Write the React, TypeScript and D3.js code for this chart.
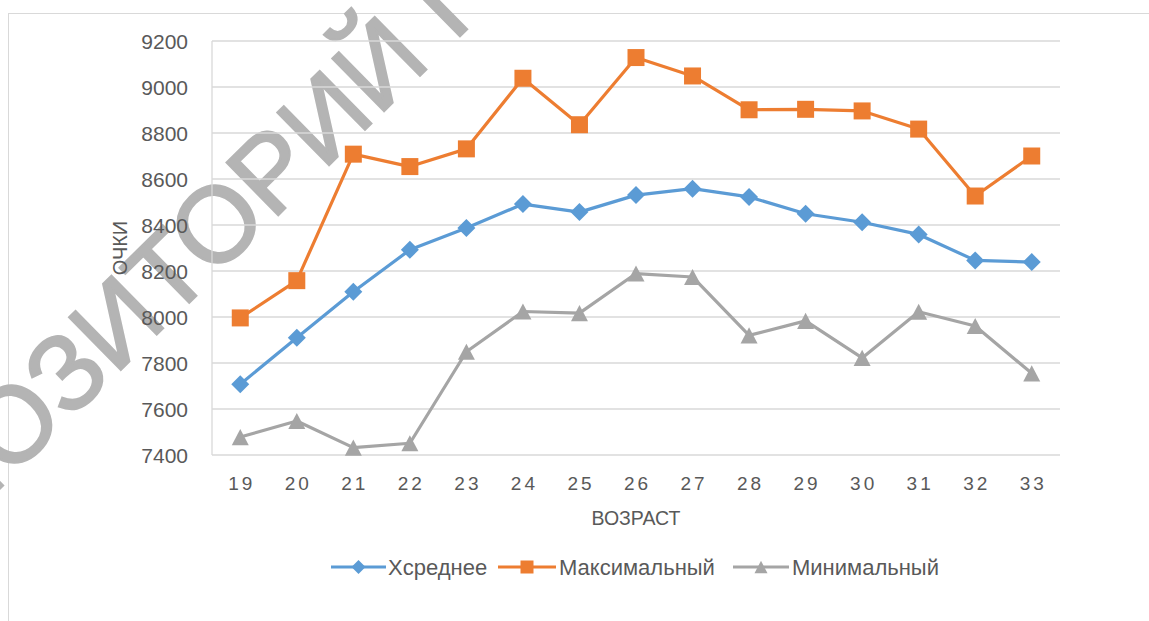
import React from 'react';
import * as d3 from 'd3';

const ages = ['19', '20', '21', '22', '23', '24', '25', '26', '27', '28', '29', '30', '31', '32', '33'];
const meanValues = [7708, 7910, 8110, 8292, 8387, 8491, 8456, 8530, 8558, 8522, 8449, 8412, 8359, 8246, 8239];
const maxValues = [7996, 8158, 8708, 8654, 8731, 9038, 8836, 9128, 9048, 8901, 8903, 8896, 8817, 8526, 8700];
const minValues = [7478, 7548, 7432, 7451, 7849, 8024, 8017, 8189, 8174, 7920, 7983, 7822, 8023, 7961, 7755];
const yTicks = [7400, 7600, 7800, 8000, 8200, 8400, 8600, 8800, 9000, 9200];
const seriesNames = ['Хсреднее', 'Максимальный', 'Минимальный'];
const xTitle = 'ВОЗРАСТ';
const yTitle = 'ОЧКИ';
const watermarkHead = 'РЕП';
const watermarkTail = 'ОЗИТОРИЙ ГГУ';

const W = 1149;
const H = 621;
const FONT = '"Liberation Sans", Arial, sans-serif';
const TEXT = '#595959';
const GRID = '#d9d9d9';
const WM = '#b4b4b4';

type Shape = 'diamond' | 'square' | 'triangle';

function markerPath(shape: Shape, cx: number, cy: number, s: number): string {
  const h = s / 2;
  if (shape === 'diamond') {
    return `M${cx},${cy - h}L${cx + h},${cy}L${cx},${cy + h}L${cx - h},${cy}Z`;
  }
  if (shape === 'square') {
    return `M${cx - h},${cy - h}H${cx + h}V${cy + h}H${cx - h}Z`;
  }
  return `M${cx},${cy - h * 0.95}L${cx + h},${cy + h * 0.95}L${cx - h},${cy + h * 0.95}Z`;
}

const series = [
  { name: seriesNames[0], values: meanValues, color: '#5B9BD5', shape: 'diamond' as Shape, size: 18 },
  { name: seriesNames[1], values: maxValues, color: '#ED7D31', shape: 'square' as Shape, size: 17 },
  { name: seriesNames[2], values: minValues, color: '#A5A5A5', shape: 'triangle' as Shape, size: 17 },
];

export default function App() {
  const x = d3.scaleBand<string>().domain(ages).range([212, 1060]);
  const y = d3.scaleLinear().domain([7400, 9200]).range([455, 41]);
  const cx = (a: string) => (x(a) as number) + x.bandwidth() / 2;
  const line = d3
    .line<number>()
    .x((_, i) => cx(ages[i]))
    .y((v) => y(v));

  const legendItems = [
    { lineX: 331, lineW: 55, textX: 388 },
    { lineX: 498, lineW: 58, textX: 559 },
    { lineX: 733, lineW: 56, textX: 792 },
  ];
  const legendY = 567;
  const wmF = 107;

  return (
    <svg
      width={W}
      height={H}
      style={{ position: 'absolute', left: 0, top: 0, background: '#fff' }}
      fontFamily={FONT}
    >
      <rect x={0} y={0} width={W} height={H} fill="#fff" />
      <rect x={8.5} y={13.5} width={W + 20} height={H + 20} fill="none" stroke={GRID} strokeWidth={1} />

      {/* watermark */}
      <g
        transform={`translate(12,423) rotate(-44.5)`}
        fill={WM}
        stroke={WM}
        strokeWidth={2.2}
        fontSize={wmF}
        fontFamily={FONT}
      >
        <text x={-0.39 * wmF} y={0.358 * wmF} textAnchor="end">{watermarkHead}</text>
        <text x={-0.39 * wmF} y={0.358 * wmF} textAnchor="start">{watermarkTail}</text>
      </g>

      {/* grid */}
      {yTicks.map((t) => (
        <line key={t} x1={212} x2={1060} y1={y(t)} y2={y(t)} stroke={GRID} strokeWidth={1.3} />
      ))}
      <line x1={212} x2={212} y1={y(9200)} y2={y(7400)} stroke={GRID} strokeWidth={1.3} />

      {/* y tick labels */}
      {yTicks.map((t) => (
        <text key={t} x={188} y={y(t)} dy="0.36em" textAnchor="end" fontSize={21} fill={TEXT}>
          {t}
        </text>
      ))}

      {/* x tick labels */}
      {ages.map((a) => (
        <text
          key={a}
          x={cx(a) + 1.5}
          y={483}
          dy="0.36em"
          textAnchor="middle"
          fontSize={19}
          letterSpacing={3}
          fill={TEXT}
        >
          {a}
        </text>
      ))}

      <text x={636} y={518} dy="0.36em" textAnchor="middle" fontSize={19.5} fill={TEXT}>
        {xTitle}
      </text>
      <text
        transform={`translate(120,248) rotate(-90)`}
        textAnchor="middle"
        dy="0.36em"
        fontSize={20}
        fill={TEXT}
      >
        {yTitle}
      </text>

      {/* series */}
      {series.map((s) => (
        <g key={s.name}>
          <path d={line(s.values) || ''} fill="none" stroke={s.color} strokeWidth={3.2} strokeLinejoin="round" />
          {s.values.map((v, i) => (
            <path key={i} d={markerPath(s.shape, cx(ages[i]), y(v), s.size)} fill={s.color} />
          ))}
        </g>
      ))}

      {/* legend */}
      {series.map((s, i) => {
        const it = legendItems[i];
        return (
          <g key={s.name}>
            <line
              x1={it.lineX}
              x2={it.lineX + it.lineW}
              y1={legendY}
              y2={legendY}
              stroke={s.color}
              strokeWidth={3.2}
            />
            <path d={markerPath(s.shape, it.lineX + it.lineW / 2, legendY, s.shape === 'diamond' ? 14 : 13)} fill={s.color} />
            <text x={it.textX} y={legendY} dy="0.36em" fontSize={22} fill={TEXT}>
              {s.name}
            </text>
          </g>
        );
      })}
    </svg>
  );
}
